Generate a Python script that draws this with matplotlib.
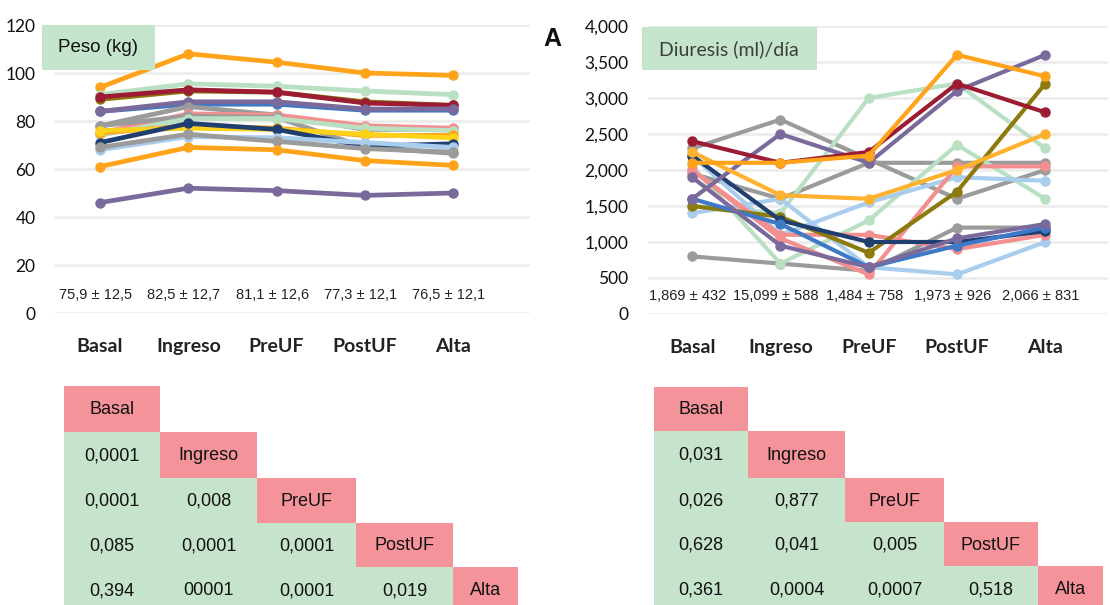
import matplotlib
matplotlib.use("Agg")
import matplotlib.pyplot as plt
from matplotlib.patches import Rectangle

# categories and data
etapas = ["Basal", "Ingreso", "PreUF", "PostUF", "Alta"]

peso_resumen = ["75,9 ± 12,5", "82,5 ± 12,7", "81,1 ± 12,6", "77,3 ± 12,1", "76,5 ± 12,1"]
diuresis_resumen = ["1,869 ± 432", "15,099 ± 588", "1,484 ± 758", "1,973 ± 926", "2,066 ± 831"]

NARANJA = "#ffa31a"
VERDE = "#b9e0c3"
GRANATE = "#9c1c34"
MORADO = "#7a6a9c"
MARINO = "#1f3f70"
OLIVA = "#8c7a0c"
GRIS = "#9b9b9b"
ROSA = "#f38f8f"
CELESTE = "#a9cdec"
AMARILLO = "#ffd21a"
AZUL = "#3d79c6"
NARANJA2 = "#ffb22e"

peso_valores = [
    [94, 108, 104.5, 100, 99],
    [91, 95.5, 94.5, 92.5, 91],
    [89, 92.5, 92, 88, 86.5],
    [90, 93, 92, 87.5, 86.5],
    [84, 87, 87, 84.5, 84.5],
    [84, 88, 88, 85, 85],
    [78, 86, 82.5, 76.5, 76.5],
    [75, 83, 82.5, 78, 77],
    [78, 82, 81.5, 69, 66.5],
    [74, 81, 81, 77, 76],
    [75, 78, 77, 74, 74],
    [76, 77, 76.5, 74.5, 73],
    [71, 79, 76.5, 69.5, 70.5],
    [68, 73.5, 73, 71, 69],
    [69, 74.5, 71.5, 68.5, 67],
    [61, 69, 68, 63.5, 61.5],
    [46, 52, 51, 49, 50],
]
peso_colores = [NARANJA, VERDE, OLIVA, GRANATE, AZUL, MORADO, GRIS, ROSA, GRIS,
                VERDE, NARANJA, AMARILLO, MARINO, CELESTE, GRIS, NARANJA, MORADO]

diuresis_valores = [
    [800, 700, 600, 1200, 1200],
    [2300, 2700, 2150, 1600, 2000],
    [1950, 1600, 2100, 2100, 2100],
    [2050, 700, 1300, 2350, 1600],
    [1500, 1400, 3000, 3200, 2300],
    [2200, 1100, 1550, 1900, 1850],
    [1400, 1600, 650, 550, 1000],
    [2000, 1050, 550, 2050, 2050],
    [2000, 1100, 1100, 900, 1100],
    [1500, 1350, 850, 1700, 3200],
    [2200, 1300, 1000, 1000, 1150],
    [1600, 1250, 650, 950, 1200],
    [1900, 950, 650, 1050, 1250],
    [1600, 2500, 2100, 3100, 3600],
    [2400, 2100, 2250, 3200, 2800],
    [2250, 1650, 1600, 2000, 2500],
    [2100, 2100, 2200, 3600, 3300],
]
diuresis_colores = [GRIS, GRIS, GRIS, VERDE, VERDE, CELESTE, CELESTE, ROSA, ROSA,
                    OLIVA, MARINO, AZUL, MORADO, MORADO, GRANATE, NARANJA2, NARANJA]

peso_p = [["0,0001"],
          ["0,0001", "0,008"],
          ["0,085", "0,0001", "0,0001"],
          ["0,394", "00001", "0,0001", "0,019"]]
diuresis_p = [["0,031"],
              ["0,026", "0,877"],
              ["0,628", "0,041", "0,005"],
              ["0,361", "0,0004", "0,0007", "0,518"]]

W, H = 1110, 605
ROSA_TABLA = "#f4939a"
VERDE_TABLA = "#c6e4cc"
VERDE_TITULO = "#c4e4cc"

fig = plt.figure(figsize=(W / 100, H / 100), dpi=100)


def px_axes(x0, x1, y0, y1):
    # pixel box -> figure fraction
    return [x0 / W, 1 - y1 / H, (x1 - x0) / W, (y1 - y0) / H]


def line_chart(rect, valores, colores, ymax, ystep, xlim, resumen, resumen_y, fmt, lw):
    ax = fig.add_axes(rect)
    x = range(len(etapas))
    for v, c in zip(valores, colores):
        ax.plot(x, v, color=c, lw=lw, marker="o", ms=6.5, solid_capstyle="round",
                solid_joinstyle="round", zorder=3)
    ax.set_ylim(0, ymax)
    ax.set_xlim(*xlim)
    ticks = list(range(0, ymax + 1, ystep))
    ax.set_yticks(ticks)
    ax.set_yticklabels([fmt(t) for t in ticks], fontsize=12.5, family="Lato", color="#111111")
    ax.set_xticks(list(x))
    ax.set_xticklabels(etapas, fontsize=14, family="Lato", fontweight="bold", color="#222222")
    ax.tick_params(axis="both", length=0)
    ax.tick_params(axis="x", pad=18)
    ax.tick_params(axis="y", pad=14)
    for t in ticks:
        ax.axhline(t, color="#ebebeb", lw=1.8, zorder=1)
    for s in ax.spines.values():
        s.set_visible(False)
    ax.patch.set_alpha(0)
    for i, txt in enumerate(resumen):
        ax.text(i - 0.05, resumen_y, txt, ha="center", va="center", fontsize=10.5,
                family="Liberation Sans", color="#222222")
    return ax


line_chart(px_axes(55, 530, 25, 313), peso_valores, peso_colores, 120, 20,
           (-0.51, 4.87), peso_resumen, 7.5, lambda t: f"{t}", 3.4)
line_chart(px_axes(648, 1108, 26, 314), diuresis_valores, diuresis_colores, 4000, 500,
           (-0.5, 4.71), diuresis_resumen, 250, lambda t: f"{t:,}", 3.0)

# overlay in pixel coordinates for boxes and tables
ov = fig.add_axes([0, 0, 1, 1], zorder=5)
ov.set_xlim(0, W)
ov.set_ylim(H, 0)
ov.axis("off")
ov.patch.set_alpha(0)

ov.add_patch(Rectangle((42, 25), 113, 45, color=VERDE_TITULO, lw=0))
ov.text(98, 48, "Peso (kg)", ha="center", va="center", fontsize=13.5,
        family="Liberation Sans", color="#111111")
ov.add_patch(Rectangle((642, 27), 175, 43, color=VERDE_TITULO, lw=0))
ov.text(729, 49, "Diuresis (ml)/día", ha="center", va="center", fontsize=14,
        family="Lato", color="#3d3d3d")
ov.text(552, 39, "A", ha="center", va="center", fontsize=18, fontweight="bold",
        family="Liberation Sans", color="#111111")


def tabla(xs, ys, valores):
    n = len(etapas)
    for i in range(n):
        # header cell on the diagonal
        ov.add_patch(Rectangle((xs[i], ys[i]), xs[i + 1] - xs[i], ys[i + 1] - ys[i],
                               color=ROSA_TABLA, lw=0))
        ov.text((xs[i] + xs[i + 1]) / 2, (ys[i] + ys[i + 1]) / 2 + 1, etapas[i],
                ha="center", va="center", fontsize=13, family="Liberation Sans",
                color="#111111")
    for r, fila in enumerate(valores):
        y0, y1 = ys[r + 1], ys[r + 2]
        for c, val in enumerate(fila):
            ov.add_patch(Rectangle((xs[c], y0), xs[c + 1] - xs[c], y1 - y0,
                                   color=VERDE_TABLA, lw=0))
            ov.text((xs[c] + xs[c + 1]) / 2, (y0 + y1) / 2 + 1, val,
                    ha="center", va="center", fontsize=13, family="Liberation Sans",
                    color="#111111")


tabla([64, 160, 257, 356, 453, 518], [386, 432, 478, 523, 567, 612], peso_p)
tabla([654, 748, 845, 944, 1038, 1103], [387, 431, 478, 522, 566, 612], diuresis_p)

fig.savefig("out.png", dpi=100)
